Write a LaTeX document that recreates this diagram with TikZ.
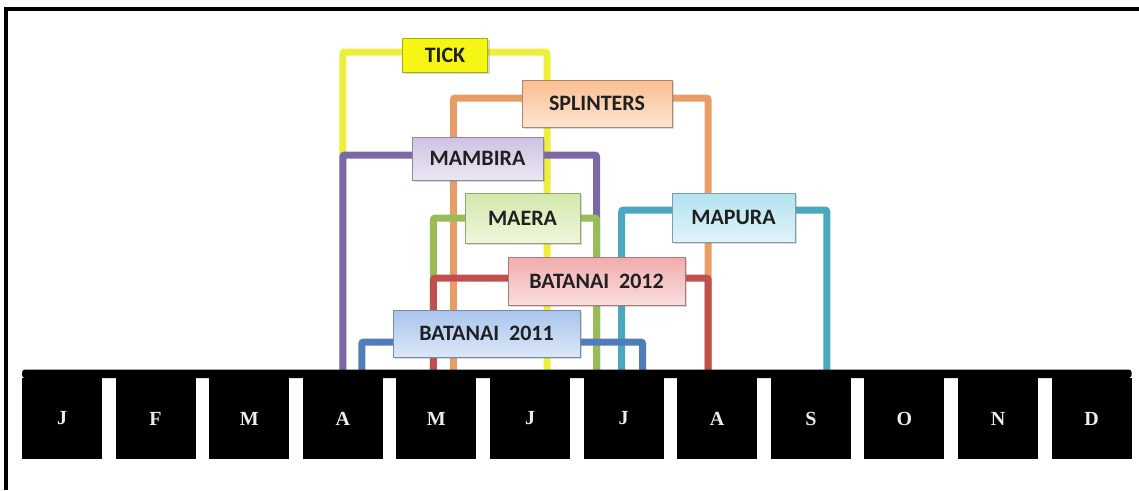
\documentclass[tikz,border=0pt]{standalone}
\usepackage{fontspec}
\setmainfont{Carlito}
\newfontfamily\monthfont{Liberation Serif}
\usepackage{xcolor}
\usepackage{tikz}
\usetikzlibrary{positioning}
\usetikzlibrary{shadows}
\pgfdeclarelayer{edgelayer}
\pgfsetlayers{edgelayer,main}

\definecolor{tickline}{RGB}{238,238,60}
\definecolor{splline}{RGB}{233,157,102}
\definecolor{mamline}{RGB}{124,104,166}
\definecolor{maeline}{RGB}{155,187,89}
\definecolor{mapline}{RGB}{75,166,192}
\definecolor{btwline}{RGB}{192,80,77}
\definecolor{btoline}{RGB}{80,125,185}
\definecolor{tickfill}{RGB}{246,246,20}
\definecolor{splfill}{RGB}{250,190,145}
\definecolor{mamfill}{RGB}{206,194,226}
\definecolor{maefill}{RGB}{212,232,170}
\definecolor{mapfill}{RGB}{178,226,240}
\definecolor{btwfill}{RGB}{242,172,172}
\definecolor{btofill}{RGB}{168,196,236}
\definecolor{labeltext}{RGB}{32,32,32}

\tikzset{
  feed/.style={line width=7pt, rounded corners=2pt},
  cropbox/.style={draw=#1!70!black, line width=0.8pt,
    top color=#1, bottom color=#1!40!white,
    inner sep=0pt, outer sep=0pt, text=labeltext,
    font=\bfseries\fontsize{22}{24}\selectfont,
    drop shadow={shadow xshift=2pt, shadow yshift=-2pt, opacity=0.3}},
  monthbox/.style={fill=black, minimum width=80pt, minimum height=81pt,
    inner sep=0pt, outer sep=0pt, text=gray!15,
    font=\monthfont\bfseries\fontsize{20}{22}\selectfont}
}

\begin{document}
\begin{tikzpicture}[x=1pt,y=-1pt]
    \useasboundingbox (0,0) rectangle (1139,490);
    % frame
    \draw[line width=4pt] (6,490) -- (6,9) -- (1139,9);

    % month bar
    \foreach \lbl/\nm [count=\i from 0] in {J/jan,F/feb,M/mar,A/apr,M/may,J/jun,J/jul,A/aug,S/sep,O/oct,N/nov,D/dec}
        \node[monthbox] (\nm) at (62+93.6*\i,418.5) {\lbl};
    \fill[black, rounded corners=3pt] ([yshift=8.5pt]jan.north west) rectangle (dec.north east);

    % crop boxes
    \node[cropbox=tickfill, bottom color=tickfill, minimum width=85pt, minimum height=34pt] (tick) at (445,55) {TICK};
    \node[cropbox=splfill, minimum width=150pt, minimum height=47pt] (splinters) at (597,103.5) {SPLINTERS};
    \node[cropbox=mamfill, minimum width=131pt, minimum height=43pt] (mambira) at (477.5,158.5) {MAMBIRA};
    \node[cropbox=maefill, minimum width=115pt, minimum height=50pt] (maera) at (522.5,218) {MAERA};
    \node[cropbox=mapfill, minimum width=123pt, minimum height=49pt] (mapura) at (733.5,217.5) {MAPURA};
    \node[cropbox=btwfill, minimum width=177pt, minimum height=48pt] (batanai12) at (596.5,281) {BATANAI\ \ 2012};
    \node[cropbox=btofill, minimum width=187pt, minimum height=47pt] (batanai11) at (486.5,333.5) {BATANAI\ \ 2011};

    % growing periods
    \begin{pgfonlayer}{edgelayer}
        \draw[feed, tickline] ([yshift=3pt]tick.west) -| (apr.north);
        \draw[feed, tickline] ([yshift=3pt]tick.east) -| ([xshift=17pt]jun.north);
        \draw[feed, splline] ([yshift=5.5pt]splinters.west) -| ([xshift=17pt]may.north);
        \draw[feed, splline] ([yshift=5.5pt]splinters.east) -| ([xshift=-9pt]aug.north);
        \draw[feed, mamline] ([yshift=3.5pt]mambira.west) -| (apr.north);
        \draw[feed, mamline] ([yshift=3.5pt]mambira.east) -| ([xshift=-27pt]jul.north);
        \draw[feed, maeline] (maera.west) -| ([xshift=-3pt]may.north);
        \draw[feed, maeline] (maera.east) -| ([xshift=-27pt]jul.north);
        \draw[feed, mapline] ([yshift=7.5pt]mapura.west) -| ([xshift=-2pt]jul.north);
        \draw[feed, mapline] ([yshift=7.5pt]mapura.east) -| ([xshift=16pt]sep.north);
        \draw[feed, btwline] ([yshift=3pt]batanai12.west) -| ([xshift=-3pt]may.north);
        \draw[feed, btwline] ([yshift=3pt]batanai12.east) -| ([xshift=-9pt]aug.north);
        \draw[feed, btoline] ([yshift=-8.5pt]batanai11.west) -| ([xshift=19pt]apr.north);
        \draw[feed, btoline] ([yshift=-8.5pt]batanai11.east) -| ([xshift=19pt]jul.north);
    \end{pgfonlayer}
\end{tikzpicture}
\end{document}
